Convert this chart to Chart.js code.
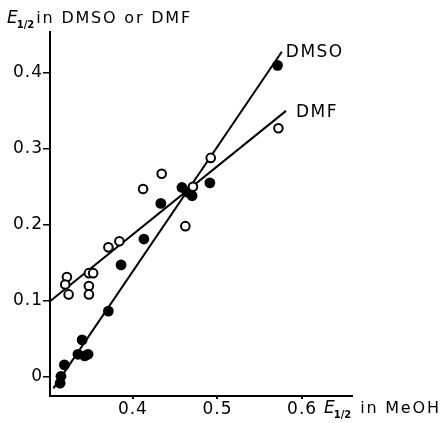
<!DOCTYPE html>
<html><head><meta charset="utf-8">
<script src="https://cdn.jsdelivr.net/npm/chart.js@4/dist/chart.umd.min.js"></script>
<style>html,body{margin:0;padding:0;background:#fff}#w{width:448px;height:423px}</style>
</head><body><div id="w"><canvas id="c" width="448" height="423"></canvas></div>
<script>
// DMSO (filled circles)
const dmsoX = [0.571, 0.458, 0.464, 0.470, 0.491, 0.433, 0.413, 0.386, 0.371, 0.340, 0.335, 0.343, 0.347, 0.319, 0.315, 0.314];
const dmsoY = [0.410, 0.249, 0.243, 0.238, 0.255, 0.228, 0.181, 0.147, 0.086, 0.048, 0.029, 0.027, 0.029, 0.015, 0.000, -0.009];
// DMF (open circles)
const dmfX = [0.572, 0.492, 0.471, 0.434, 0.412, 0.462, 0.384, 0.371, 0.348, 0.353, 0.322, 0.320, 0.324, 0.348, 0.348];
const dmfY = [0.327, 0.288, 0.250, 0.267, 0.247, 0.198, 0.178, 0.170, 0.136, 0.136, 0.131, 0.121, 0.108, 0.119, 0.108];
// fitted lines
const dmsoLineX = [0.306, 0.576];
const dmsoLineY = [-0.016, 0.428];
const dmfLineX = [0.302, 0.581];
const dmfLineY = [0.099, 0.350];
// ticks
const xTicks = [0.4, 0.5, 0.6];
const xTickLabels = ["0.4", "0.5", "0.6"];
const yTicks = [0, 0.1, 0.2, 0.3, 0.4];
const yTickLabels = ["0", "0.1", "0.2", "0.3", "0.4"];
const seriesNames = ["DMSO", "DMF"];

const pts = (xs, ys) => xs.map((x, i) => ({x: x, y: ys[i]}));
const FONT = "'DejaVu Sans', sans-serif";

const spacingPlugin = {
  id: 'spacing',
  beforeDraw(chart) { chart.ctx.letterSpacing = '1px'; }
};

const textPlugin = {
  id: 'texts',
  afterDraw(chart) {
    const ctx = chart.ctx;
    const xs = chart.scales.x, ys = chart.scales.y;
    ctx.save();
    ctx.fillStyle = '#000';
    ctx.textBaseline = 'middle';
    ctx.textAlign = 'left';
    // series labels near line ends
    ctx.font = '17px ' + FONT;
    ctx.letterSpacing = '1.5px';
    ctx.fillText(seriesNames[0], xs.getPixelForValue(dmsoLineX[1]) + 4, ys.getPixelForValue(dmsoLineY[1]) + 1);
    ctx.fillText(seriesNames[1], xs.getPixelForValue(dmfLineX[1]) + 10, ys.getPixelForValue(dmfLineY[1]) + 2);
    // axis titles
    function eHalf(x, y, rest) {
      ctx.letterSpacing = '0px';
      ctx.font = 'italic 17px ' + FONT;
      ctx.fillText('E', x, y);
      let w = ctx.measureText('E').width;
      ctx.font = 'bold 10px ' + FONT;
      ctx.fillText('1/2', x + w - 1, y + 6);
      w += ctx.measureText('1/2').width;
      ctx.font = '16px ' + FONT;
      ctx.letterSpacing = '1.8px';
      ctx.fillText(rest, x + w + 1, y);
    }
    eHalf(7, 19, 'in DMSO or DMF');
    eHalf(324, 409, ' in MeOH');
    ctx.restore();
  }
};

new Chart(document.getElementById('c'), {
  type: 'scatter',
  data: {
    datasets: [
      {label: 'DMF', data: pts(dmfX, dmfY), pointRadius: 4.3, pointBorderWidth: 2, pointBackgroundColor: '#fff', pointBorderColor: '#000', order: 1},
      {label: 'DMSO', data: pts(dmsoX, dmsoY), pointRadius: 5.4, pointBorderWidth: 0, pointBackgroundColor: '#000', pointBorderColor: '#000', order: 2},
      {type: 'line', label: 'DMSO fit', data: pts(dmsoLineX, dmsoLineY), borderColor: '#000', borderWidth: 2, pointRadius: 0, fill: false, order: 3},
      {type: 'line', label: 'DMF fit', data: pts(dmfLineX, dmfLineY), borderColor: '#000', borderWidth: 2, pointRadius: 0, fill: false, order: 4}
    ]
  },
  options: {
    responsive: false,
    animation: false,
    layout: {padding: {top: 32, right: 96, left: 0, bottom: 0}},
    plugins: {legend: {display: false}, tooltip: {enabled: false}},
    scales: {
      x: {
        type: 'linear', min: 0.302, max: 0.659,
        afterBuildTicks: s => { s.ticks = xTicks.map(v => ({value: v})); },
        afterFit: s => { s.height = 27; },
        border: {display: true, color: '#000', width: 2},
        grid: {drawOnChartArea: false, drawTicks: true, tickLength: 3, color: '#000', lineWidth: 2},
        ticks: {color: '#000', font: {family: FONT, size: 17}, padding: 0, maxRotation: 0,
          callback: (v) => { const i = xTicks.indexOf(v); return i >= 0 ? xTickLabels[i] : ''; }}
      },
      y: {
        type: 'linear', min: -0.026, max: 0.454,
        afterBuildTicks: s => { s.ticks = yTicks.map(v => ({value: v})); },
        afterFit: s => { s.width = 50; },
        border: {display: true, color: '#000', width: 2},
        grid: {drawOnChartArea: false, drawTicks: true, tickLength: 7, color: '#000', lineWidth: 1.5},
        ticks: {color: '#000', font: {family: FONT, size: 17}, padding: 0,
          callback: (v) => { const i = yTicks.indexOf(v); return i >= 0 ? yTickLabels[i] : ''; }}
      }
    }
  },
  plugins: [spacingPlugin, textPlugin]
});
</script>
</body></html>
